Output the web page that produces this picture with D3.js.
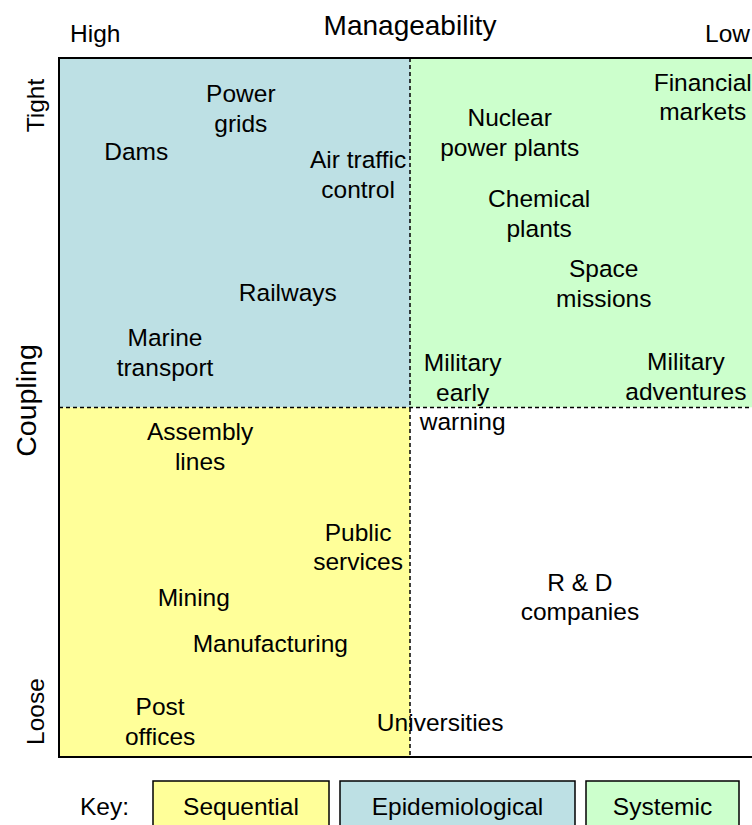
<!DOCTYPE html>
<style>
body { margin: 0; background: #fff; }
text { font-family: "Liberation Sans", Arial, sans-serif; fill: #000; }
</style>
<svg id="chart" width="752" height="825"></svg>
<script src="https://d3js.org/d3.v7.min.js"></script>
<script>

// systems placed by manageability (0 = high, 10 = low) and coupling (0 = loose, 10 = tight)
var labels = ["Dams", "Power\ngrids", "Air traffic\ncontrol", "Nuclear\npower plants", "Financial\nmarkets",
  "Chemical\nplants", "Space\nmissions", "Railways", "Marine\ntransport", "Military\nearly\nwarning",
  "Military\nadventures", "Assembly\nlines", "Public\nservices", "Mining", "Manufacturing",
  "R & D\ncompanies", "Post\noffices", "Universities"];
var manage = [1.10, 2.59, 4.26, 6.42, 9.17, 6.84, 7.76, 3.26, 1.51, 5.75, 8.93, 2.01, 4.26, 1.92, 3.01, 7.42, 1.44, 5.43];
var coupling = [8.66, 9.28, 8.34, 8.94, 9.45, 7.78, 6.78, 6.65, 5.79, 5.22, 5.45, 4.45, 3.01, 2.29, 1.63, 2.29, 0.51, 0.50];

var keyNames = ["Sequential", "Epidemiological", "Systemic"];
var keyColors = ["#ffff99", "#bde0e4", "#ccffcc"];

var svg = d3.select("#chart"),
  margin = {top: 58, left: 59},
  width = 702,
  height = 699,
  g = svg.append("g").attr("transform", "translate(" + margin.left + "," + margin.top + ")");

var x = d3.scaleLinear().domain([0, 10]).range([0, width]);
var y = d3.scaleLinear().domain([0, 10]).range([height, 0]);

// quadrants
var quads = [
  {x0: 0, x1: 5, y0: 5, y1: 10, fill: keyColors[1]},
  {x0: 5, x1: 10, y0: 5, y1: 10, fill: keyColors[2]},
  {x0: 0, x1: 5, y0: 0, y1: 5, fill: keyColors[0]},
  {x0: 5, x1: 10, y0: 0, y1: 5, fill: "#fff"}
];
g.selectAll("rect.quad")
  .data(quads)
  .enter().append("rect")
    .attr("class", "quad")
    .attr("x", function(d) { return x(d.x0); })
    .attr("y", function(d) { return y(d.y1); })
    .attr("width", function(d) { return x(d.x1) - x(d.x0); })
    .attr("height", function(d) { return y(d.y0) - y(d.y1); })
    .attr("fill", function(d) { return d.fill; });

// dashed dividers
g.append("line")
  .attr("x1", x(5)).attr("x2", x(5)).attr("y1", y(10)).attr("y2", y(0))
  .attr("stroke", "#000").attr("stroke-width", 1.5).attr("stroke-dasharray", "4,3");
g.append("line")
  .attr("x1", x(0)).attr("x2", x(10)).attr("y1", y(5)).attr("y2", y(5))
  .attr("stroke", "#000").attr("stroke-width", 1.5).attr("stroke-dasharray", "4,3");

g.append("rect")
  .attr("width", width).attr("height", height)
  .attr("fill", "none").attr("stroke", "#000").attr("stroke-width", 2);

// labels
var lab = g.selectAll("text.lab")
  .data(labels)
  .enter().append("text")
    .attr("class", "lab")
    .attr("font-size", 24.5)
    .attr("text-anchor", "middle")
    .attr("transform", function(d, i) { return "translate(" + x(manage[i]) + "," + y(coupling[i]) + ")"; });

lab.each(function(d) {
  var lines = d.split("\n");
  var t = d3.select(this);
  lines.forEach(function(l, j) {
    t.append("tspan")
      .attr("x", 0)
      .attr("y", (j - (lines.length - 1) / 2) * 29.5)
      .attr("dy", "0.36em")
      .text(l);
  });
});

// axis titles
svg.append("text").attr("x", 410).attr("y", 35).attr("font-size", 28).attr("text-anchor", "middle").text("Manageability");
svg.append("text").attr("x", 70).attr("y", 42).attr("font-size", 24.5).text("High");
svg.append("text").attr("x", 750).attr("y", 42).attr("font-size", 24.5).attr("text-anchor", "end").text("Low");

svg.append("text").attr("transform", "translate(44," + (margin.top + y(9.32)) + ") rotate(-90)")
  .attr("font-size", 24.5).attr("text-anchor", "middle").text("Tight");
svg.append("text").attr("transform", "translate(36," + (margin.top + y(5.1)) + ") rotate(-90)")
  .attr("font-size", 28.5).attr("text-anchor", "middle").text("Coupling");
svg.append("text").attr("transform", "translate(44," + (margin.top + y(0.65)) + ") rotate(-90)")
  .attr("font-size", 24.5).attr("text-anchor", "middle").text("Loose");

// key
svg.append("text").attr("x", 80).attr("y", 815).attr("font-size", 24.5).text("Key:");
var keyX = [153, 340, 586], keyW = [176, 235, 153];
var key = svg.selectAll("g.key")
  .data(keyNames)
  .enter().append("g")
    .attr("class", "key")
    .attr("transform", function(d, i) { return "translate(" + keyX[i] + ",781)"; });
key.append("rect")
  .attr("width", function(d, i) { return keyW[i]; })
  .attr("height", 60)
  .attr("fill", function(d, i) { return keyColors[i]; })
  .attr("stroke", "#000").attr("stroke-width", 1.5);
key.append("text")
  .attr("x", function(d, i) { return keyW[i] / 2; })
  .attr("y", 34)
  .attr("font-size", 24.5)
  .attr("text-anchor", "middle")
  .text(function(d) { return d; });

</script>
